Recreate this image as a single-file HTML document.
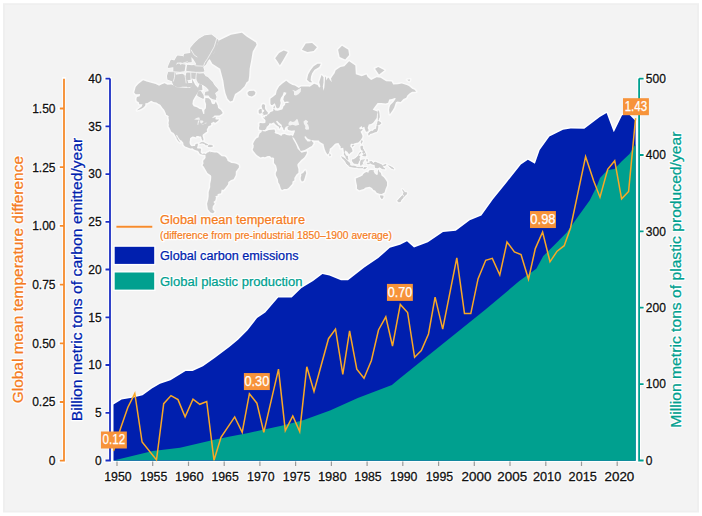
<!DOCTYPE html>
<html><head><meta charset="utf-8"><style>html,body{margin:0;padding:0;background:#fff;width:702px;height:516px;overflow:hidden}svg{display:block}</style></head>
<body><svg width="702" height="516" viewBox="0 0 702 516">
<rect x="3" y="3.2" width="696" height="509.3" fill="#efefef"/>
<rect x="5" y="5" width="692" height="505.6" fill="#f3f3f3"/>
<path d="M134.2,92.4L135.7,87.1L138.3,84.0L143.1,80.3L146.5,81.5L150.1,82.6L155.6,84.0L159.1,85.8L161.9,84.2L164.6,83.3L167.4,84.7L171.3,84.5L174.4,85.8L176.8,87.3L180.7,87.5L184.7,87.7L189.4,88.1L191.0,87.1L192.1,84.5L192.1,78.8L195.3,84.9L198.0,87.7L199.6,83.8L202.0,84.9L202.4,90.1L198.6,90.7L196.5,94.5L195.1,96.6L192.9,100.4L192.4,103.9L193.7,106.2L196.9,107.2L199.6,108.9L201.7,109.2L203.3,114.1L204.3,113.9L204.4,110.0L205.9,108.2L206.1,104.3L205.1,101.2L205.4,98.1L208.7,98.3L210.6,100.1L211.8,103.6L213.0,104.3L214.6,103.9L215.8,101.6L217.7,105.4L218.1,107.9L220.9,110.0L222.7,112.9L221.7,113.9L219.3,115.5L214.6,115.5L211.8,118.2L215.8,117.0L215.4,118.7L215.7,119.6L219.1,119.4L218.1,120.7L216.5,121.9L214.8,123.1L214.4,122.1L213.8,121.7L211.3,123.0L210.9,124.1L211.4,124.9L210.2,125.5L208.3,126.3L208.1,127.3L207.2,128.8L206.7,129.8L207.1,131.4L205.5,132.5L204.2,133.4L202.8,134.6L202.5,136.0L203.1,137.7L203.5,139.4L203.2,140.6L202.7,140.7L202.1,139.8L201.4,138.3L201.4,137.2L200.4,136.3L199.3,136.6L198.4,136.0L196.9,136.0L196.1,136.2L196.3,137.2L195.3,137.2L194.1,136.7L192.7,136.6L191.8,137.0L190.3,138.0L189.9,138.7L190.0,140.1L189.6,141.6L189.6,143.0L190.0,144.4L191.0,145.7L191.9,146.2L193.7,146.1L194.8,146.0L195.4,145.1L195.5,144.1L197.1,143.7L198.0,143.7L197.7,145.4L197.4,146.4L197.0,148.1L197.7,148.4L200.4,148.4L201.0,149.1L200.8,151.1L200.6,152.3L201.6,153.5L202.5,154.0L203.9,153.5L205.1,153.7L205.7,154.2L205.2,155.3L203.9,154.6L203.3,155.0L202.2,154.6L200.7,154.3L199.1,153.1L199.0,152.1L197.7,150.7L195.8,150.3L194.0,149.5L192.5,148.2L190.6,148.5L189.0,148.0L186.6,146.9L185.1,146.4L183.6,145.1L183.4,143.8L183.3,142.7L181.5,140.6L180.3,139.9L178.2,137.2L177.2,135.3L176.2,134.8L176.4,136.3L177.6,137.7L178.4,139.4L179.6,141.4L180.3,142.3L180.0,142.5L178.2,140.9L176.6,138.6L176.6,137.7L175.4,136.0L174.4,134.1L173.3,132.7L171.6,132.1L170.6,130.2L170.1,129.0L169.1,127.0L168.6,126.4L168.9,124.7L168.5,123.2L169.0,120.2L168.4,117.6L168.9,116.6L167.8,115.4L166.2,114.7L165.8,113.2L164.2,109.7L162.6,107.9L160.3,104.8L158.3,103.7L156.5,102.5L153.6,102.0L151.2,100.8L148.7,102.3L147.1,103.3L145.6,103.1L145.1,105.8L143.4,107.5L141.0,109.0L138.4,110.0L137.1,110.2L139.4,108.3L141.6,106.8L142.6,104.2L139.3,104.2L138.7,102.0L136.8,101.2L136.4,99.3L136.9,97.1L139.7,96.3L140.0,94.1L137.9,94.3L135.7,94.3ZM218.6,40.8L231.0,34.7L241.9,32.7L246.5,36.6L255.8,42.5L256.6,44.7L252.7,51.5L251.2,60.2L249.6,68.7L249.2,75.9L248.4,81.0L246.5,82.2L244.5,86.2L240.3,90.5L235.0,93.9L232.6,100.8L230.2,101.6L227.6,98.8L225.6,93.6L224.4,88.1L223.3,80.5L221.7,74.6L220.2,68.7L212.4,63.8L209.3,58.3L214.0,52.9L217.1,45.2ZM215.4,99.0L213.8,96.6L215.8,97.1L214.2,93.0L217.7,90.1L216.1,88.1L213.8,85.6L212.2,82.6L209.9,80.3L207.5,77.8L205.1,76.7L203.2,74.0L199.6,74.3L196.1,73.7L197.3,79.8L198.8,82.6L201.6,83.8L203.6,84.5L206.7,86.6L209.1,89.3L209.5,91.7L205.9,92.6L205.5,94.8L208.7,94.5L210.6,97.1L213.0,98.5ZM217.7,40.3L211.4,35.4L205.1,36.0L199.6,39.1L194.9,43.6L191.0,48.3L191.0,55.5L194.1,59.1L196.5,62.8L197.3,65.5L202.8,66.5L205.1,64.5L207.5,60.2L210.6,57.1L213.8,52.0L216.1,47.3ZM203.6,70.9L202.0,65.5L196.5,65.2L191.4,66.2L192.1,70.3L194.9,71.5L199.6,71.7ZM172.9,82.2L174.1,84.9L177.6,86.6L182.3,86.0L187.0,86.0L187.4,82.2L186.2,79.8L184.7,75.9L182.3,74.6L176.8,75.4L174.4,78.5L172.9,80.3ZM168.1,79.0L172.1,80.5L175.2,78.5L175.4,74.6L174.4,72.3L168.9,72.3L167.8,75.9ZM174.1,72.0L183.9,70.6L184.7,65.2L178.4,64.2L174.1,67.1ZM168.5,67.1L174.4,66.2L176.8,61.7L171.3,60.6ZM182.3,62.8L191.0,61.7L190.2,53.8L184.7,54.6ZM174.4,62.0L181.5,61.7L182.3,56.7L177.6,56.3ZM195.3,78.5L191.8,77.8L191.0,73.2L195.3,73.5ZM186.2,79.8L190.6,79.0L190.3,73.2L187.0,73.2ZM187.0,70.3L193.3,71.5L193.3,66.2L187.8,65.5ZM187.8,86.6L191.0,86.0L191.4,83.8L188.6,83.8ZM198.0,95.4L199.6,96.3L203.2,98.0L202.8,95.4L200.4,91.7L198.4,92.1ZM247.6,92.6L249.2,90.9L253.9,90.7L255.5,92.6L254.7,94.8L251.9,96.4L248.8,95.7L247.6,93.9ZM205.7,154.2L207.1,152.7L209.1,152.0L210.2,151.1L210.2,152.3L211.4,151.9L214.6,152.6L216.9,152.5L218.5,153.5L219.3,154.2L221.7,156.2L224.8,156.5L226.0,157.4L227.2,159.5L227.6,160.9L228.7,161.4L231.5,162.9L234.2,163.2L236.2,163.8L238.7,165.0L239.0,167.2L237.4,169.5L235.8,171.5L235.7,174.9L234.6,177.2L233.5,179.3L231.1,179.9L228.3,181.9L228.1,184.2L226.4,186.4L224.4,189.1L223.2,190.1L221.7,189.6L221.3,191.5L221.1,193.2L217.7,194.0L217.5,195.8L215.4,196.0L215.9,197.6L215.4,200.3L213.4,202.0L214.7,203.7L212.8,206.3L212.4,209.2L214.6,211.8L213.0,213.2L210.6,212.5L207.9,209.2L207.1,203.7L208.3,199.2L208.7,196.0L208.7,192.0L210.2,187.3L210.2,183.7L211.0,180.2L211.3,176.8L211.0,175.4L207.5,173.1L205.9,170.3L203.9,166.8L202.6,165.2L203.6,163.2L203.2,161.7L203.6,160.1L204.5,159.5L205.6,157.8L205.5,155.4ZM261.9,131.0L265.3,131.5L268.9,130.0L274.4,129.6L275.2,131.5L274.5,132.6L275.5,133.5L278.3,134.2L281.4,136.1L282.2,134.5L284.6,134.0L286.6,134.9L289.3,135.5L291.7,135.3L292.1,136.3L292.9,139.0L294.4,141.6L295.8,144.1L296.9,146.6L297.7,148.7L299.9,151.0L300.6,151.7L301.5,152.7L304.3,152.1L306.8,151.6L306.9,152.7L306.5,153.8L305.1,156.2L303.9,157.8L301.1,160.1L299.2,162.3L298.0,163.6L297.3,164.8L297.6,166.5L298.4,169.1L298.4,172.7L296.4,174.6L294.3,177.9L294.4,180.2L292.5,181.5L292.3,183.7L291.0,185.3L288.5,188.0L286.8,188.9L284.2,189.1L282.2,189.9L281.1,189.3L280.6,187.7L279.5,184.2L278.3,182.4L277.9,179.3L275.9,175.2L275.8,173.1L277.1,170.3L276.7,168.0L276.1,165.6L274.0,162.9L274.0,160.1L274.2,158.4L273.2,157.4L271.2,157.5L270.0,156.0L267.7,156.1L264.9,157.2L263.0,156.8L260.6,157.5L259.0,156.6L257.5,155.5L256.0,154.2L254.7,152.4L253.4,151.1L252.7,149.3L253.5,148.0L253.8,145.4L253.1,144.1L253.9,142.0L255.1,139.9L256.3,138.4L258.6,137.2L258.9,135.6L259.8,133.3L261.4,132.2ZM305.3,170.3L306.2,173.1L305.7,174.4L304.3,179.3L303.5,181.1L301.9,181.5L300.9,179.8L300.7,177.7L301.4,175.6L301.1,174.0L303.1,173.1L304.3,171.5ZM259.4,129.8L261.4,129.9L262.1,130.8L263.0,130.1L264.9,130.1L266.1,128.6L266.7,127.8L266.3,127.3L269.0,124.8L269.0,123.7L270.0,123.2L271.6,123.6L272.8,122.8L274.0,122.4L274.8,123.8L276.2,125.0L277.5,126.0L278.9,126.8L279.2,128.8L278.8,128.8L279.1,128.9L280.0,127.8L281.1,126.6L279.8,125.8L278.3,124.7L277.2,123.1L276.2,121.9L276.3,121.1L277.3,120.8L278.3,122.1L280.3,123.7L281.8,124.9L281.8,126.5L283.0,128.0L283.6,130.0L284.6,130.3L284.8,128.6L285.8,126.8L287.1,126.3L289.2,125.7L287.4,127.8L288.0,129.8L289.3,130.2L291.7,130.7L294.8,130.3L294.8,131.7L294.0,133.6L293.5,135.2L292.1,136.3L293.4,138.3L294.0,136.8L294.0,138.1L295.6,140.7L297.2,143.7L298.8,147.0L300.2,149.9L300.7,150.9L301.9,150.8L304.7,149.9L307.4,148.4L309.8,147.0L311.9,145.9L313.6,142.9L312.5,141.9L310.8,139.6L310.6,141.2L309.0,141.4L307.0,141.2L306.6,139.9L305.8,139.4L304.3,136.8L305.8,136.3L307.0,138.2L309.0,139.3L311.3,140.1L314.9,140.6L318.8,140.4L319.6,141.8L321.6,142.9L323.5,144.1L323.9,145.8L324.7,149.1L325.9,151.9L327.5,154.6L328.7,153.5L329.6,150.7L329.7,148.7L331.2,147.8L333.4,145.4L335.0,143.7L336.5,143.3L338.5,142.9L339.3,144.6L340.7,146.6L340.7,148.3L343.2,147.8L343.6,150.3L344.0,153.1L343.8,154.6L345.4,156.6L346.0,158.6L347.9,159.9L348.5,159.8L347.9,157.8L347.9,156.0L346.0,155.5L345.3,153.8L344.6,152.7L345.2,150.3L345.8,150.9L347.1,151.5L349.1,154.2L350.5,152.7L352.4,151.6L352.4,150.3L351.7,148.3L350.3,146.6L350.5,144.6L351.9,143.6L353.3,144.3L353.4,143.7L355.8,143.1L358.2,142.5L360.5,140.3L362.1,137.7L362.5,135.9L361.7,134.1L360.5,131.7L362.9,129.5L361.7,129.0L360.1,129.4L359.1,128.0L361.7,126.0L362.1,127.8L364.3,126.8L364.9,129.0L366.0,131.7L368.3,131.2L368.5,129.6L367.6,128.0L368.8,124.4L371.1,123.9L373.1,122.8L376.7,118.1L377.0,114.5L377.8,111.7L374.7,110.6L372.7,109.7L374.4,107.2L377.6,103.1L381.4,103.1L385.7,103.6L388.1,102.8L389.2,99.6L392.0,99.1L394.7,98.0L395.9,98.5L394.0,101.2L393.2,102.3L390.4,105.1L389.5,107.2L389.1,110.0L389.8,114.2L391.2,112.2L392.6,110.2L394.2,107.6L395.0,105.1L395.9,102.3L397.5,101.6L400.6,102.0L403.4,99.1L406.2,97.8L407.3,95.4L409.7,93.2L412.1,91.7L414.8,91.7L416.1,91.5L414.4,89.7L412.1,88.7L408.9,86.0L406.6,85.1L401.8,83.6L397.9,84.2L393.2,84.5L391.6,81.5L386.1,81.2L380.6,77.8L376.7,77.3L371.1,80.0L367.6,77.0L366.4,74.6L361.7,76.2L355.8,74.3L355.3,65.5L349.1,61.3L344.4,66.2L340.5,67.1L335.7,70.3L334.6,73.2L332.6,75.9L331.0,78.5L331.8,82.2L329.8,79.8L328.7,77.8L327.9,77.8L326.3,80.5L325.9,77.3L325.1,76.5L324.7,83.3L324.3,87.7L323.5,90.7L322.8,86.6L323.5,82.2L323.5,77.3L321.6,75.1L320.4,78.5L319.2,82.2L320.4,86.6L319.2,87.7L317.6,84.9L314.1,83.8L309.8,86.8L308.2,86.6L301.1,86.6L298.8,88.1L294.8,85.6L292.5,84.9L289.3,83.3L286.2,80.7L282.2,83.8L279.1,86.6L276.7,90.7L275.9,94.5L272.8,97.1L270.4,98.8L270.4,103.6L271.2,105.1L272.4,105.1L274.8,103.3L275.2,104.3L276.2,107.2L276.3,107.6L277.8,108.6L279.5,107.2L280.7,103.1L280.1,100.4L280.9,97.8L282.6,95.6L283.8,92.1L286.5,92.8L285.9,94.3L284.0,96.6L283.3,99.6L284.6,102.0L287.0,101.4L289.7,101.9L287.7,103.0L285.4,103.1L285.0,105.1L283.5,106.2L283.0,107.9L282.2,109.6L281.1,109.8L277.7,110.8L275.2,110.6L274.2,109.3L273.3,107.2L274.8,105.5L274.8,107.9L273.3,108.9L273.3,110.9L272.0,111.6L270.2,112.2L269.1,114.1L267.8,114.6L266.5,116.3L265.3,116.1L265.1,117.4L262.8,117.5L264.7,119.0L265.6,120.4L265.3,123.1L263.0,123.2L260.2,122.9L259.2,123.7L259.6,125.3L259.0,128.0ZM262.0,115.6L264.1,115.0L267.6,114.2L267.8,112.3L266.7,111.3L265.3,109.3L264.9,107.9L265.1,105.6L264.1,104.2L262.6,104.2L261.6,106.1L262.1,107.9L262.6,109.6L264.1,110.0L264.1,111.6L262.8,112.2L262.4,113.6L264.1,113.9L263.0,114.7ZM261.8,113.0L261.8,110.6L261.6,109.0L260.0,109.0L258.6,110.6L258.8,113.1L259.8,113.7ZM368.8,135.3L370.0,133.6L372.7,133.1L374.1,132.2L376.5,131.7L377.3,130.3L377.8,128.3L378.1,126.8L377.7,125.5L376.7,126.3L376.5,128.3L375.5,129.3L373.9,129.8L373.1,131.2L371.1,131.2L369.6,132.3L368.6,133.4ZM376.7,125.3L377.4,123.7L378.0,121.1L380.6,122.4L381.0,123.5L379.0,124.7ZM378.2,120.4L379.4,116.9L379.0,112.0L378.2,110.6L378.2,115.7ZM361.0,142.5L361.7,140.6L362.4,140.9L361.5,143.4ZM351.9,145.8L353.4,144.9L353.8,145.4L352.7,146.5ZM329.3,155.4L329.6,153.2L330.9,155.0L330.5,156.1L329.6,156.2ZM360.9,146.2L362.7,146.2L362.6,148.3L364.1,150.7L361.4,149.9L360.8,148.0ZM362.5,155.4L364.1,154.2L365.6,153.5L366.0,156.0L364.1,156.0ZM362.5,151.9L364.1,151.1L365.2,152.3L363.3,153.5ZM352.3,159.7L353.8,159.5L355.8,158.2L357.4,156.8L358.6,155.4L360.3,156.9L358.9,157.6L359.7,160.1L358.9,160.9L358.2,162.9L357.8,163.9L356.2,163.6L353.8,163.2L353.0,162.1L352.3,160.9ZM341.5,156.6L343.6,157.8L345.6,159.3L348.2,161.7L349.9,163.2L349.9,165.4L348.7,165.4L346.8,163.9L345.6,161.7L344.0,159.6L342.4,158.2ZM349.3,166.2L349.9,165.6L351.9,166.0L353.8,165.9L355.0,166.3L356.6,166.9L356.6,167.6L353.8,167.3L351.5,167.0L349.5,166.4ZM360.5,165.2L360.4,163.2L360.8,160.9L361.3,160.1L364.7,159.7L363.3,160.6L361.7,160.5L362.5,161.7L363.5,161.6L362.1,162.5L362.9,164.5L361.7,163.2L361.3,165.2ZM369.6,161.8L371.9,161.6L373.1,163.5L375.1,162.1L377.4,162.9L381.2,164.6L382.6,165.7L382.9,167.2L385.1,169.0L382.2,168.7L379.8,166.9L377.4,168.0L375.1,167.4L374.9,164.8L372.7,164.3L370.8,163.6L369.6,162.1ZM355.8,178.5L356.2,181.9L357.0,185.5L357.0,188.7L359.2,190.2L363.7,189.0L365.6,187.6L369.6,186.8L371.9,188.0L373.5,190.1L375.1,190.6L376.7,192.8L379.4,193.8L381.6,194.1L384.5,192.5L385.5,188.9L387.0,185.5L387.0,181.9L385.1,178.9L383.7,177.2L381.5,175.6L380.8,172.7L379.4,171.9L378.6,169.3L377.9,171.1L377.8,174.4L376.7,174.9L374.7,173.5L373.5,171.1L374.3,170.3L371.1,169.9L369.6,170.3L368.8,171.1L368.4,172.7L366.4,171.9L364.9,172.7L363.3,174.0L362.5,175.6L360.1,176.8L358.2,177.5L356.6,178.3ZM380.3,195.7L383.2,195.9L382.9,198.1L381.8,198.8L380.7,197.3ZM402.4,189.5L404.0,191.5L405.0,192.6L406.9,192.7L406.5,194.2L405.5,195.0L404.1,196.4L403.9,194.7L403.2,194.2L403.9,192.5ZM402.4,195.5L403.6,196.5L402.9,198.1L401.2,199.7L400.6,201.4L398.9,202.1L397.5,200.9L398.9,199.2L401.0,197.1ZM199.6,143.4L202.0,142.3L203.6,142.4L205.5,143.5L208.1,144.8L205.5,145.1L204.7,143.7L202.1,143.1ZM207.9,146.3L209.2,145.1L211.4,145.2L212.8,146.1L210.6,146.9L208.0,146.5ZM275.2,58.3L279.1,52.9L283.8,50.6L287.7,52.0L283.0,60.2L279.9,65.2L276.7,60.2ZM307.0,79.8L308.2,74.6L310.6,70.3L313.7,66.2L317.6,63.8L320.8,63.8L319.2,67.1L314.5,69.7L312.1,73.2L311.0,76.5L310.6,80.3L312.1,82.2L309.8,82.2ZM338.1,49.7L342.0,45.7L348.3,49.7L349.1,55.0L345.2,59.4L339.7,57.1ZM301.9,49.7L305.8,43.6L312.1,43.1L316.9,47.3L313.7,51.1L307.4,52.0ZM375.1,68.7L379.0,74.6L384.5,70.3L378.2,67.1ZM407.3,79.8L410.1,79.5L409.3,81.2ZM364.1,167.6L366.7,167.5L364.9,168.7L363.7,169.0ZM357.1,167.3L360.1,167.4L362.9,167.3L363.1,167.9L360.1,168.0L357.8,167.9ZM366.8,159.3L367.6,159.7L367.2,161.5L366.7,160.9ZM367.2,163.2L369.6,163.2L369.2,163.9L367.2,163.8ZM383.3,165.2L386.1,164.2L385.7,165.2L383.7,165.7ZM388.5,165.6L392.4,167.6L394.0,169.1L391.6,168.3ZM358.7,154.4L360.5,152.0L360.8,152.7L359.3,154.2ZM215.4,99.0L213.8,96.6L215.8,97.1L214.2,93.0L217.7,90.1L216.1,88.1L213.8,85.6L212.2,82.6L209.9,80.3L207.5,77.8L205.1,76.7L203.2,74.0L199.6,74.3L196.1,73.7L197.3,79.8L198.8,82.6L201.6,83.8L203.6,84.5L206.7,86.6L209.1,89.3L209.5,91.7L205.9,92.6L205.5,94.8L208.7,94.5L210.6,97.1L213.0,98.5ZM217.7,40.3L211.4,35.4L205.1,36.0L199.6,39.1L194.9,43.6L191.0,48.3L191.0,55.5L194.1,59.1L196.5,62.8L197.3,65.5L202.8,66.5L205.1,64.5L207.5,60.2L210.6,57.1L213.8,52.0L216.1,47.3ZM203.6,70.9L202.0,65.5L196.5,65.2L191.4,66.2L192.1,70.3L194.9,71.5L199.6,71.7ZM172.9,82.2L174.1,84.9L177.6,86.6L182.3,86.0L187.0,86.0L187.4,82.2L186.2,79.8L184.7,75.9L182.3,74.6L176.8,75.4L174.4,78.5L172.9,80.3ZM168.1,79.0L172.1,80.5L175.2,78.5L175.4,74.6L174.4,72.3L168.9,72.3L167.8,75.9ZM174.1,72.0L183.9,70.6L184.7,65.2L178.4,64.2L174.1,67.1ZM168.5,67.1L174.4,66.2L176.8,61.7L171.3,60.6ZM182.3,62.8L191.0,61.7L190.2,53.8L184.7,54.6ZM174.4,62.0L181.5,61.7L182.3,56.7L177.6,56.3ZM195.3,78.5L191.8,77.8L191.0,73.2L195.3,73.5ZM186.2,79.8L190.6,79.0L190.3,73.2L187.0,73.2ZM187.0,70.3L193.3,71.5L193.3,66.2L187.8,65.5ZM187.8,86.6L191.0,86.0L191.4,83.8L188.6,83.8ZM198.0,95.4L199.6,96.3L203.2,98.0L202.8,95.4L200.4,91.7L198.4,92.1Z" fill="#fafafa" stroke="#fafafa" stroke-width="3" stroke-linejoin="round"/>
<path d="M134.2,92.4L135.7,87.1L138.3,84.0L143.1,80.3L146.5,81.5L150.1,82.6L155.6,84.0L159.1,85.8L161.9,84.2L164.6,83.3L167.4,84.7L171.3,84.5L174.4,85.8L176.8,87.3L180.7,87.5L184.7,87.7L189.4,88.1L191.0,87.1L192.1,84.5L192.1,78.8L195.3,84.9L198.0,87.7L199.6,83.8L202.0,84.9L202.4,90.1L198.6,90.7L196.5,94.5L195.1,96.6L192.9,100.4L192.4,103.9L193.7,106.2L196.9,107.2L199.6,108.9L201.7,109.2L203.3,114.1L204.3,113.9L204.4,110.0L205.9,108.2L206.1,104.3L205.1,101.2L205.4,98.1L208.7,98.3L210.6,100.1L211.8,103.6L213.0,104.3L214.6,103.9L215.8,101.6L217.7,105.4L218.1,107.9L220.9,110.0L222.7,112.9L221.7,113.9L219.3,115.5L214.6,115.5L211.8,118.2L215.8,117.0L215.4,118.7L215.7,119.6L219.1,119.4L218.1,120.7L216.5,121.9L214.8,123.1L214.4,122.1L213.8,121.7L211.3,123.0L210.9,124.1L211.4,124.9L210.2,125.5L208.3,126.3L208.1,127.3L207.2,128.8L206.7,129.8L207.1,131.4L205.5,132.5L204.2,133.4L202.8,134.6L202.5,136.0L203.1,137.7L203.5,139.4L203.2,140.6L202.7,140.7L202.1,139.8L201.4,138.3L201.4,137.2L200.4,136.3L199.3,136.6L198.4,136.0L196.9,136.0L196.1,136.2L196.3,137.2L195.3,137.2L194.1,136.7L192.7,136.6L191.8,137.0L190.3,138.0L189.9,138.7L190.0,140.1L189.6,141.6L189.6,143.0L190.0,144.4L191.0,145.7L191.9,146.2L193.7,146.1L194.8,146.0L195.4,145.1L195.5,144.1L197.1,143.7L198.0,143.7L197.7,145.4L197.4,146.4L197.0,148.1L197.7,148.4L200.4,148.4L201.0,149.1L200.8,151.1L200.6,152.3L201.6,153.5L202.5,154.0L203.9,153.5L205.1,153.7L205.7,154.2L205.2,155.3L203.9,154.6L203.3,155.0L202.2,154.6L200.7,154.3L199.1,153.1L199.0,152.1L197.7,150.7L195.8,150.3L194.0,149.5L192.5,148.2L190.6,148.5L189.0,148.0L186.6,146.9L185.1,146.4L183.6,145.1L183.4,143.8L183.3,142.7L181.5,140.6L180.3,139.9L178.2,137.2L177.2,135.3L176.2,134.8L176.4,136.3L177.6,137.7L178.4,139.4L179.6,141.4L180.3,142.3L180.0,142.5L178.2,140.9L176.6,138.6L176.6,137.7L175.4,136.0L174.4,134.1L173.3,132.7L171.6,132.1L170.6,130.2L170.1,129.0L169.1,127.0L168.6,126.4L168.9,124.7L168.5,123.2L169.0,120.2L168.4,117.6L168.9,116.6L167.8,115.4L166.2,114.7L165.8,113.2L164.2,109.7L162.6,107.9L160.3,104.8L158.3,103.7L156.5,102.5L153.6,102.0L151.2,100.8L148.7,102.3L147.1,103.3L145.6,103.1L145.1,105.8L143.4,107.5L141.0,109.0L138.4,110.0L137.1,110.2L139.4,108.3L141.6,106.8L142.6,104.2L139.3,104.2L138.7,102.0L136.8,101.2L136.4,99.3L136.9,97.1L139.7,96.3L140.0,94.1L137.9,94.3L135.7,94.3ZM218.6,40.8L231.0,34.7L241.9,32.7L246.5,36.6L255.8,42.5L256.6,44.7L252.7,51.5L251.2,60.2L249.6,68.7L249.2,75.9L248.4,81.0L246.5,82.2L244.5,86.2L240.3,90.5L235.0,93.9L232.6,100.8L230.2,101.6L227.6,98.8L225.6,93.6L224.4,88.1L223.3,80.5L221.7,74.6L220.2,68.7L212.4,63.8L209.3,58.3L214.0,52.9L217.1,45.2ZM215.4,99.0L213.8,96.6L215.8,97.1L214.2,93.0L217.7,90.1L216.1,88.1L213.8,85.6L212.2,82.6L209.9,80.3L207.5,77.8L205.1,76.7L203.2,74.0L199.6,74.3L196.1,73.7L197.3,79.8L198.8,82.6L201.6,83.8L203.6,84.5L206.7,86.6L209.1,89.3L209.5,91.7L205.9,92.6L205.5,94.8L208.7,94.5L210.6,97.1L213.0,98.5ZM217.7,40.3L211.4,35.4L205.1,36.0L199.6,39.1L194.9,43.6L191.0,48.3L191.0,55.5L194.1,59.1L196.5,62.8L197.3,65.5L202.8,66.5L205.1,64.5L207.5,60.2L210.6,57.1L213.8,52.0L216.1,47.3ZM203.6,70.9L202.0,65.5L196.5,65.2L191.4,66.2L192.1,70.3L194.9,71.5L199.6,71.7ZM172.9,82.2L174.1,84.9L177.6,86.6L182.3,86.0L187.0,86.0L187.4,82.2L186.2,79.8L184.7,75.9L182.3,74.6L176.8,75.4L174.4,78.5L172.9,80.3ZM168.1,79.0L172.1,80.5L175.2,78.5L175.4,74.6L174.4,72.3L168.9,72.3L167.8,75.9ZM174.1,72.0L183.9,70.6L184.7,65.2L178.4,64.2L174.1,67.1ZM168.5,67.1L174.4,66.2L176.8,61.7L171.3,60.6ZM182.3,62.8L191.0,61.7L190.2,53.8L184.7,54.6ZM174.4,62.0L181.5,61.7L182.3,56.7L177.6,56.3ZM195.3,78.5L191.8,77.8L191.0,73.2L195.3,73.5ZM186.2,79.8L190.6,79.0L190.3,73.2L187.0,73.2ZM187.0,70.3L193.3,71.5L193.3,66.2L187.8,65.5ZM187.8,86.6L191.0,86.0L191.4,83.8L188.6,83.8ZM198.0,95.4L199.6,96.3L203.2,98.0L202.8,95.4L200.4,91.7L198.4,92.1ZM247.6,92.6L249.2,90.9L253.9,90.7L255.5,92.6L254.7,94.8L251.9,96.4L248.8,95.7L247.6,93.9ZM205.7,154.2L207.1,152.7L209.1,152.0L210.2,151.1L210.2,152.3L211.4,151.9L214.6,152.6L216.9,152.5L218.5,153.5L219.3,154.2L221.7,156.2L224.8,156.5L226.0,157.4L227.2,159.5L227.6,160.9L228.7,161.4L231.5,162.9L234.2,163.2L236.2,163.8L238.7,165.0L239.0,167.2L237.4,169.5L235.8,171.5L235.7,174.9L234.6,177.2L233.5,179.3L231.1,179.9L228.3,181.9L228.1,184.2L226.4,186.4L224.4,189.1L223.2,190.1L221.7,189.6L221.3,191.5L221.1,193.2L217.7,194.0L217.5,195.8L215.4,196.0L215.9,197.6L215.4,200.3L213.4,202.0L214.7,203.7L212.8,206.3L212.4,209.2L214.6,211.8L213.0,213.2L210.6,212.5L207.9,209.2L207.1,203.7L208.3,199.2L208.7,196.0L208.7,192.0L210.2,187.3L210.2,183.7L211.0,180.2L211.3,176.8L211.0,175.4L207.5,173.1L205.9,170.3L203.9,166.8L202.6,165.2L203.6,163.2L203.2,161.7L203.6,160.1L204.5,159.5L205.6,157.8L205.5,155.4ZM261.9,131.0L265.3,131.5L268.9,130.0L274.4,129.6L275.2,131.5L274.5,132.6L275.5,133.5L278.3,134.2L281.4,136.1L282.2,134.5L284.6,134.0L286.6,134.9L289.3,135.5L291.7,135.3L292.1,136.3L292.9,139.0L294.4,141.6L295.8,144.1L296.9,146.6L297.7,148.7L299.9,151.0L300.6,151.7L301.5,152.7L304.3,152.1L306.8,151.6L306.9,152.7L306.5,153.8L305.1,156.2L303.9,157.8L301.1,160.1L299.2,162.3L298.0,163.6L297.3,164.8L297.6,166.5L298.4,169.1L298.4,172.7L296.4,174.6L294.3,177.9L294.4,180.2L292.5,181.5L292.3,183.7L291.0,185.3L288.5,188.0L286.8,188.9L284.2,189.1L282.2,189.9L281.1,189.3L280.6,187.7L279.5,184.2L278.3,182.4L277.9,179.3L275.9,175.2L275.8,173.1L277.1,170.3L276.7,168.0L276.1,165.6L274.0,162.9L274.0,160.1L274.2,158.4L273.2,157.4L271.2,157.5L270.0,156.0L267.7,156.1L264.9,157.2L263.0,156.8L260.6,157.5L259.0,156.6L257.5,155.5L256.0,154.2L254.7,152.4L253.4,151.1L252.7,149.3L253.5,148.0L253.8,145.4L253.1,144.1L253.9,142.0L255.1,139.9L256.3,138.4L258.6,137.2L258.9,135.6L259.8,133.3L261.4,132.2ZM305.3,170.3L306.2,173.1L305.7,174.4L304.3,179.3L303.5,181.1L301.9,181.5L300.9,179.8L300.7,177.7L301.4,175.6L301.1,174.0L303.1,173.1L304.3,171.5ZM259.4,129.8L261.4,129.9L262.1,130.8L263.0,130.1L264.9,130.1L266.1,128.6L266.7,127.8L266.3,127.3L269.0,124.8L269.0,123.7L270.0,123.2L271.6,123.6L272.8,122.8L274.0,122.4L274.8,123.8L276.2,125.0L277.5,126.0L278.9,126.8L279.2,128.8L278.8,128.8L279.1,128.9L280.0,127.8L281.1,126.6L279.8,125.8L278.3,124.7L277.2,123.1L276.2,121.9L276.3,121.1L277.3,120.8L278.3,122.1L280.3,123.7L281.8,124.9L281.8,126.5L283.0,128.0L283.6,130.0L284.6,130.3L284.8,128.6L285.8,126.8L287.1,126.3L289.2,125.7L287.4,127.8L288.0,129.8L289.3,130.2L291.7,130.7L294.8,130.3L294.8,131.7L294.0,133.6L293.5,135.2L292.1,136.3L293.4,138.3L294.0,136.8L294.0,138.1L295.6,140.7L297.2,143.7L298.8,147.0L300.2,149.9L300.7,150.9L301.9,150.8L304.7,149.9L307.4,148.4L309.8,147.0L311.9,145.9L313.6,142.9L312.5,141.9L310.8,139.6L310.6,141.2L309.0,141.4L307.0,141.2L306.6,139.9L305.8,139.4L304.3,136.8L305.8,136.3L307.0,138.2L309.0,139.3L311.3,140.1L314.9,140.6L318.8,140.4L319.6,141.8L321.6,142.9L323.5,144.1L323.9,145.8L324.7,149.1L325.9,151.9L327.5,154.6L328.7,153.5L329.6,150.7L329.7,148.7L331.2,147.8L333.4,145.4L335.0,143.7L336.5,143.3L338.5,142.9L339.3,144.6L340.7,146.6L340.7,148.3L343.2,147.8L343.6,150.3L344.0,153.1L343.8,154.6L345.4,156.6L346.0,158.6L347.9,159.9L348.5,159.8L347.9,157.8L347.9,156.0L346.0,155.5L345.3,153.8L344.6,152.7L345.2,150.3L345.8,150.9L347.1,151.5L349.1,154.2L350.5,152.7L352.4,151.6L352.4,150.3L351.7,148.3L350.3,146.6L350.5,144.6L351.9,143.6L353.3,144.3L353.4,143.7L355.8,143.1L358.2,142.5L360.5,140.3L362.1,137.7L362.5,135.9L361.7,134.1L360.5,131.7L362.9,129.5L361.7,129.0L360.1,129.4L359.1,128.0L361.7,126.0L362.1,127.8L364.3,126.8L364.9,129.0L366.0,131.7L368.3,131.2L368.5,129.6L367.6,128.0L368.8,124.4L371.1,123.9L373.1,122.8L376.7,118.1L377.0,114.5L377.8,111.7L374.7,110.6L372.7,109.7L374.4,107.2L377.6,103.1L381.4,103.1L385.7,103.6L388.1,102.8L389.2,99.6L392.0,99.1L394.7,98.0L395.9,98.5L394.0,101.2L393.2,102.3L390.4,105.1L389.5,107.2L389.1,110.0L389.8,114.2L391.2,112.2L392.6,110.2L394.2,107.6L395.0,105.1L395.9,102.3L397.5,101.6L400.6,102.0L403.4,99.1L406.2,97.8L407.3,95.4L409.7,93.2L412.1,91.7L414.8,91.7L416.1,91.5L414.4,89.7L412.1,88.7L408.9,86.0L406.6,85.1L401.8,83.6L397.9,84.2L393.2,84.5L391.6,81.5L386.1,81.2L380.6,77.8L376.7,77.3L371.1,80.0L367.6,77.0L366.4,74.6L361.7,76.2L355.8,74.3L355.3,65.5L349.1,61.3L344.4,66.2L340.5,67.1L335.7,70.3L334.6,73.2L332.6,75.9L331.0,78.5L331.8,82.2L329.8,79.8L328.7,77.8L327.9,77.8L326.3,80.5L325.9,77.3L325.1,76.5L324.7,83.3L324.3,87.7L323.5,90.7L322.8,86.6L323.5,82.2L323.5,77.3L321.6,75.1L320.4,78.5L319.2,82.2L320.4,86.6L319.2,87.7L317.6,84.9L314.1,83.8L309.8,86.8L308.2,86.6L301.1,86.6L298.8,88.1L294.8,85.6L292.5,84.9L289.3,83.3L286.2,80.7L282.2,83.8L279.1,86.6L276.7,90.7L275.9,94.5L272.8,97.1L270.4,98.8L270.4,103.6L271.2,105.1L272.4,105.1L274.8,103.3L275.2,104.3L276.2,107.2L276.3,107.6L277.8,108.6L279.5,107.2L280.7,103.1L280.1,100.4L280.9,97.8L282.6,95.6L283.8,92.1L286.5,92.8L285.9,94.3L284.0,96.6L283.3,99.6L284.6,102.0L287.0,101.4L289.7,101.9L287.7,103.0L285.4,103.1L285.0,105.1L283.5,106.2L283.0,107.9L282.2,109.6L281.1,109.8L277.7,110.8L275.2,110.6L274.2,109.3L273.3,107.2L274.8,105.5L274.8,107.9L273.3,108.9L273.3,110.9L272.0,111.6L270.2,112.2L269.1,114.1L267.8,114.6L266.5,116.3L265.3,116.1L265.1,117.4L262.8,117.5L264.7,119.0L265.6,120.4L265.3,123.1L263.0,123.2L260.2,122.9L259.2,123.7L259.6,125.3L259.0,128.0ZM262.0,115.6L264.1,115.0L267.6,114.2L267.8,112.3L266.7,111.3L265.3,109.3L264.9,107.9L265.1,105.6L264.1,104.2L262.6,104.2L261.6,106.1L262.1,107.9L262.6,109.6L264.1,110.0L264.1,111.6L262.8,112.2L262.4,113.6L264.1,113.9L263.0,114.7ZM261.8,113.0L261.8,110.6L261.6,109.0L260.0,109.0L258.6,110.6L258.8,113.1L259.8,113.7ZM368.8,135.3L370.0,133.6L372.7,133.1L374.1,132.2L376.5,131.7L377.3,130.3L377.8,128.3L378.1,126.8L377.7,125.5L376.7,126.3L376.5,128.3L375.5,129.3L373.9,129.8L373.1,131.2L371.1,131.2L369.6,132.3L368.6,133.4ZM376.7,125.3L377.4,123.7L378.0,121.1L380.6,122.4L381.0,123.5L379.0,124.7ZM378.2,120.4L379.4,116.9L379.0,112.0L378.2,110.6L378.2,115.7ZM361.0,142.5L361.7,140.6L362.4,140.9L361.5,143.4ZM351.9,145.8L353.4,144.9L353.8,145.4L352.7,146.5ZM329.3,155.4L329.6,153.2L330.9,155.0L330.5,156.1L329.6,156.2ZM360.9,146.2L362.7,146.2L362.6,148.3L364.1,150.7L361.4,149.9L360.8,148.0ZM362.5,155.4L364.1,154.2L365.6,153.5L366.0,156.0L364.1,156.0ZM362.5,151.9L364.1,151.1L365.2,152.3L363.3,153.5ZM352.3,159.7L353.8,159.5L355.8,158.2L357.4,156.8L358.6,155.4L360.3,156.9L358.9,157.6L359.7,160.1L358.9,160.9L358.2,162.9L357.8,163.9L356.2,163.6L353.8,163.2L353.0,162.1L352.3,160.9ZM341.5,156.6L343.6,157.8L345.6,159.3L348.2,161.7L349.9,163.2L349.9,165.4L348.7,165.4L346.8,163.9L345.6,161.7L344.0,159.6L342.4,158.2ZM349.3,166.2L349.9,165.6L351.9,166.0L353.8,165.9L355.0,166.3L356.6,166.9L356.6,167.6L353.8,167.3L351.5,167.0L349.5,166.4ZM360.5,165.2L360.4,163.2L360.8,160.9L361.3,160.1L364.7,159.7L363.3,160.6L361.7,160.5L362.5,161.7L363.5,161.6L362.1,162.5L362.9,164.5L361.7,163.2L361.3,165.2ZM369.6,161.8L371.9,161.6L373.1,163.5L375.1,162.1L377.4,162.9L381.2,164.6L382.6,165.7L382.9,167.2L385.1,169.0L382.2,168.7L379.8,166.9L377.4,168.0L375.1,167.4L374.9,164.8L372.7,164.3L370.8,163.6L369.6,162.1ZM355.8,178.5L356.2,181.9L357.0,185.5L357.0,188.7L359.2,190.2L363.7,189.0L365.6,187.6L369.6,186.8L371.9,188.0L373.5,190.1L375.1,190.6L376.7,192.8L379.4,193.8L381.6,194.1L384.5,192.5L385.5,188.9L387.0,185.5L387.0,181.9L385.1,178.9L383.7,177.2L381.5,175.6L380.8,172.7L379.4,171.9L378.6,169.3L377.9,171.1L377.8,174.4L376.7,174.9L374.7,173.5L373.5,171.1L374.3,170.3L371.1,169.9L369.6,170.3L368.8,171.1L368.4,172.7L366.4,171.9L364.9,172.7L363.3,174.0L362.5,175.6L360.1,176.8L358.2,177.5L356.6,178.3ZM380.3,195.7L383.2,195.9L382.9,198.1L381.8,198.8L380.7,197.3ZM402.4,189.5L404.0,191.5L405.0,192.6L406.9,192.7L406.5,194.2L405.5,195.0L404.1,196.4L403.9,194.7L403.2,194.2L403.9,192.5ZM402.4,195.5L403.6,196.5L402.9,198.1L401.2,199.7L400.6,201.4L398.9,202.1L397.5,200.9L398.9,199.2L401.0,197.1ZM199.6,143.4L202.0,142.3L203.6,142.4L205.5,143.5L208.1,144.8L205.5,145.1L204.7,143.7L202.1,143.1ZM207.9,146.3L209.2,145.1L211.4,145.2L212.8,146.1L210.6,146.9L208.0,146.5ZM275.2,58.3L279.1,52.9L283.8,50.6L287.7,52.0L283.0,60.2L279.9,65.2L276.7,60.2ZM307.0,79.8L308.2,74.6L310.6,70.3L313.7,66.2L317.6,63.8L320.8,63.8L319.2,67.1L314.5,69.7L312.1,73.2L311.0,76.5L310.6,80.3L312.1,82.2L309.8,82.2ZM338.1,49.7L342.0,45.7L348.3,49.7L349.1,55.0L345.2,59.4L339.7,57.1ZM301.9,49.7L305.8,43.6L312.1,43.1L316.9,47.3L313.7,51.1L307.4,52.0ZM375.1,68.7L379.0,74.6L384.5,70.3L378.2,67.1ZM407.3,79.8L410.1,79.5L409.3,81.2ZM364.1,167.6L366.7,167.5L364.9,168.7L363.7,169.0ZM357.1,167.3L360.1,167.4L362.9,167.3L363.1,167.9L360.1,168.0L357.8,167.9ZM366.8,159.3L367.6,159.7L367.2,161.5L366.7,160.9ZM367.2,163.2L369.6,163.2L369.2,163.9L367.2,163.8ZM383.3,165.2L386.1,164.2L385.7,165.2L383.7,165.7ZM388.5,165.6L392.4,167.6L394.0,169.1L391.6,168.3ZM358.7,154.4L360.5,152.0L360.8,152.7L359.3,154.2Z" fill="#cdcdcd"/>
<path d="M215.4,99.0L213.8,96.6L215.8,97.1L214.2,93.0L217.7,90.1L216.1,88.1L213.8,85.6L212.2,82.6L209.9,80.3L207.5,77.8L205.1,76.7L203.2,74.0L199.6,74.3L196.1,73.7L197.3,79.8L198.8,82.6L201.6,83.8L203.6,84.5L206.7,86.6L209.1,89.3L209.5,91.7L205.9,92.6L205.5,94.8L208.7,94.5L210.6,97.1L213.0,98.5ZM217.7,40.3L211.4,35.4L205.1,36.0L199.6,39.1L194.9,43.6L191.0,48.3L191.0,55.5L194.1,59.1L196.5,62.8L197.3,65.5L202.8,66.5L205.1,64.5L207.5,60.2L210.6,57.1L213.8,52.0L216.1,47.3ZM203.6,70.9L202.0,65.5L196.5,65.2L191.4,66.2L192.1,70.3L194.9,71.5L199.6,71.7ZM172.9,82.2L174.1,84.9L177.6,86.6L182.3,86.0L187.0,86.0L187.4,82.2L186.2,79.8L184.7,75.9L182.3,74.6L176.8,75.4L174.4,78.5L172.9,80.3ZM168.1,79.0L172.1,80.5L175.2,78.5L175.4,74.6L174.4,72.3L168.9,72.3L167.8,75.9ZM174.1,72.0L183.9,70.6L184.7,65.2L178.4,64.2L174.1,67.1ZM168.5,67.1L174.4,66.2L176.8,61.7L171.3,60.6ZM182.3,62.8L191.0,61.7L190.2,53.8L184.7,54.6ZM174.4,62.0L181.5,61.7L182.3,56.7L177.6,56.3ZM195.3,78.5L191.8,77.8L191.0,73.2L195.3,73.5ZM186.2,79.8L190.6,79.0L190.3,73.2L187.0,73.2ZM187.0,70.3L193.3,71.5L193.3,66.2L187.8,65.5ZM187.8,86.6L191.0,86.0L191.4,83.8L188.6,83.8ZM198.0,95.4L199.6,96.3L203.2,98.0L202.8,95.4L200.4,91.7L198.4,92.1Z" fill="#cdcdcd" stroke="#cdcdcd" stroke-width="1.6" stroke-linejoin="round"/>
<path d="M341.5,156.6L343.6,157.8L345.6,159.3L348.2,161.7L349.9,163.2L349.9,165.4L348.7,165.4L346.8,163.9L345.6,161.7L344.0,159.6L342.4,158.2ZM352.3,159.7L353.8,159.5L355.8,158.2L357.4,156.8L358.6,155.4L360.3,156.9L358.9,157.6L359.7,160.1L358.9,160.9L358.2,162.9L357.8,163.9L356.2,163.6L353.8,163.2L353.0,162.1L352.3,160.9ZM349.3,166.2L349.9,165.6L351.9,166.0L353.8,165.9L355.0,166.3L356.6,166.9L356.6,167.6L353.8,167.3L351.5,167.0L349.5,166.4ZM360.5,165.2L360.4,163.2L360.8,160.9L361.3,160.1L364.7,159.7L363.3,160.6L361.7,160.5L362.5,161.7L363.5,161.6L362.1,162.5L362.9,164.5L361.7,163.2L361.3,165.2ZM369.6,161.8L371.9,161.6L373.1,163.5L375.1,162.1L377.4,162.9L381.2,164.6L382.6,165.7L382.9,167.2L385.1,169.0L382.2,168.7L379.8,166.9L377.4,168.0L375.1,167.4L374.9,164.8L372.7,164.3L370.8,163.6L369.6,162.1ZM360.9,146.2L362.7,146.2L362.6,148.3L364.1,150.7L361.4,149.9L360.8,148.0ZM362.5,155.4L364.1,154.2L365.6,153.5L366.0,156.0L364.1,156.0ZM362.5,151.9L364.1,151.1L365.2,152.3L363.3,153.5ZM364.1,167.6L366.7,167.5L364.9,168.7L363.7,169.0ZM357.1,167.3L360.1,167.4L362.9,167.3L363.1,167.9L360.1,168.0L357.8,167.9ZM366.8,159.3L367.6,159.7L367.2,161.5L366.7,160.9ZM367.2,163.2L369.6,163.2L369.2,163.9L367.2,163.8ZM383.3,165.2L386.1,164.2L385.7,165.2L383.7,165.7ZM388.5,165.6L392.4,167.6L394.0,169.1L391.6,168.3ZM358.7,154.4L360.5,152.0L360.8,152.7L359.3,154.2ZM368.8,135.3L370.0,133.6L372.7,133.1L374.1,132.2L376.5,131.7L377.3,130.3L377.8,128.3L378.1,126.8L377.7,125.5L376.7,126.3L376.5,128.3L375.5,129.3L373.9,129.8L373.1,131.2L371.1,131.2L369.6,132.3L368.6,133.4ZM376.7,125.3L377.4,123.7L378.0,121.1L380.6,122.4L381.0,123.5L379.0,124.7ZM378.2,120.4L379.4,116.9L379.0,112.0L378.2,110.6L378.2,115.7ZM361.0,142.5L361.7,140.6L362.4,140.9L361.5,143.4ZM351.9,145.8L353.4,144.9L353.8,145.4L352.7,146.5ZM199.6,143.4L202.0,142.3L203.6,142.4L205.5,143.5L208.1,144.8L205.5,145.1L204.7,143.7L202.1,143.1ZM207.9,146.3L209.2,145.1L211.4,145.2L212.8,146.1L210.6,146.9L208.0,146.5ZM402.4,189.5L404.0,191.5L405.0,192.6L406.9,192.7L406.5,194.2L405.5,195.0L404.1,196.4L403.9,194.7L403.2,194.2L403.9,192.5ZM402.4,195.5L403.6,196.5L402.9,198.1L401.2,199.7L400.6,201.4L398.9,202.1L397.5,200.9L398.9,199.2L401.0,197.1ZM380.3,195.7L383.2,195.9L382.9,198.1L381.8,198.8L380.7,197.3Z" fill="#cdcdcd" stroke="#cdcdcd" stroke-width="0.5" stroke-linejoin="round"/>
<path d="M216.9,37.9L214.2,46.8L210.6,53.3L207.5,58.7L204.7,62.8L203.6,66.2M204.3,72.3L195.7,72.3L187.8,71.5L180.0,72.3L173.7,71.7L167.4,71.5M203.6,66.2L195.7,65.8L191.8,62.8L187.8,62.8M191.0,49.7L194.1,55.0L197.3,57.1M173.3,81.5L174.4,77.8L175.0,72.0M186.2,83.3L185.5,78.5L184.3,72.0M191.0,79.8L190.7,72.3M195.7,79.8L196.1,75.9L196.5,72.3M180.0,64.5L183.1,63.1L187.8,61.7" fill="none" stroke="#f3f3f3" stroke-width="0.9" stroke-linejoin="round"/>
<path d="M292.1,89.7L294.0,91.7L294.0,95.0L296.0,95.4L298.4,94.3L300.7,91.7L301.1,87.7L298.8,89.1L295.6,91.1ZM288.5,125.3L288.5,123.1L290.1,120.9L292.9,122.1L294.8,121.3L296.4,119.3L297.6,119.3L299.2,124.7L295.6,125.8L292.5,124.7L290.1,125.6ZM303.5,121.5L305.8,119.8L308.2,121.5L307.0,123.7L308.2,124.7L309.0,127.8L308.9,129.5L306.2,129.8L305.1,128.8L305.4,126.3L303.9,123.7ZM194.1,119.6L196.5,117.9L199.2,117.2L200.0,119.7L197.7,119.8ZM197.4,124.7L198.0,120.6L199.6,120.4L198.6,123.1L198.2,125.0ZM200.4,123.0L200.0,120.5L202.4,120.4L203.6,121.5L201.7,123.5ZM201.0,125.1L202.8,124.4L204.3,123.8L203.2,124.7ZM203.7,123.4L206.5,122.4L206.3,123.4Z" fill="#f3f3f3"/>
<polygon points="113.5,460.7 113.5,404.5 121.6,399.5 133.3,397.5 142.6,395.3 151.9,388.4 160.0,383.7 170.5,380.2 185.6,370.9 192.6,370.9 203.0,366.3 214.7,358.0 230.0,346.5 238.1,339.7 247.6,330.2 257.1,318.0 265.3,312.6 278.2,297.6 291.7,297.6 301.5,287.9 313.1,280.9 322.4,274.0 329.4,275.6 341.0,280.2 348.0,280.2 364.3,267.4 378.3,258.1 389.9,247.7 400.0,244.7 407.0,241.2 414.0,247.4 427.9,242.3 443.0,231.9 455.8,230.7 469.8,220.2 481.4,215.6 493.0,199.3 507.0,181.9 520.9,164.4 527.9,159.8 534.9,163.7 539.7,150.1 549.4,136.5 563.0,129.7 570.7,128.4 584.3,128.8 599.8,117.1 606.6,113.0 613.8,132.3 622.1,115.2 628.9,114.2 635.6,121.0 635.6,460.7" fill="#ffffff" stroke="#ffffff" stroke-width="2.8" stroke-linejoin="round"/>
<polygon points="113.5,460.7 113.5,404.5 121.6,399.5 133.3,397.5 142.6,395.3 151.9,388.4 160.0,383.7 170.5,380.2 185.6,370.9 192.6,370.9 203.0,366.3 214.7,358.0 230.0,346.5 238.1,339.7 247.6,330.2 257.1,318.0 265.3,312.6 278.2,297.6 291.7,297.6 301.5,287.9 313.1,280.9 322.4,274.0 329.4,275.6 341.0,280.2 348.0,280.2 364.3,267.4 378.3,258.1 389.9,247.7 400.0,244.7 407.0,241.2 414.0,247.4 427.9,242.3 443.0,231.9 455.8,230.7 469.8,220.2 481.4,215.6 493.0,199.3 507.0,181.9 520.9,164.4 527.9,159.8 534.9,163.7 539.7,150.1 549.4,136.5 563.0,129.7 570.7,128.4 584.3,128.8 599.8,117.1 606.6,113.0 613.8,132.3 622.1,115.2 628.9,114.2 635.6,121.0 635.6,460.7" fill="#001fae"/>
<polygon points="113.5,460.5 152.7,451.1 180.0,447.7 214.2,439.8 230.0,436.6 248.4,433.0 282.6,425.5 303.1,420.3 330.0,410.6 357.8,398.1 391.9,384.9 400.0,378.2 442.6,343.9 485.2,309.8 519.3,281.1 536.3,268.8 543.3,256.0 554.9,244.4 566.5,232.8 578.1,216.5 589.8,200.2 596.7,186.5 600.0,178.0 607.5,170.0 614.5,169.0 621.5,161.5 629.5,154.0 635.7,144.0 635.7,460.7" fill="#00a08f"/>
<polyline points="113.5,451.0 120.7,428.0 127.8,407.5 134.8,393.4 142.1,442.0 156.5,460.0 163.7,403.7 171.0,395.6 178.0,399.6 185.1,416.9 193.0,399.1 199.8,404.3 206.7,401.5 214.0,460.3 221.0,437.4 234.7,416.9 242.2,432.3 249.4,393.7 256.9,403.2 263.8,432.3 278.5,369.1 285.3,430.6 292.8,415.9 299.7,431.6 306.8,366.8 314.0,391.5 328.5,338.7 335.5,329.1 342.8,374.4 349.6,330.8 356.8,369.2 364.0,378.2 371.4,360.5 378.5,330.0 385.8,316.9 392.5,346.0 400.3,304.4 407.6,312.5 414.6,357.3 421.3,350.6 428.5,334.0 435.1,297.1 442.7,329.1 456.8,257.8 464.5,313.6 470.8,313.6 478.1,278.7 485.7,260.3 492.3,258.4 499.8,275.0 507.0,242.0 514.4,252.0 521.0,254.5 528.5,279.2 535.3,248.6 542.6,232.0 550.0,261.8 557.1,251.2 564.2,245.7 570.5,228.0 585.6,156.5 593.7,180.9 600.0,197.2 607.7,169.3 614.7,160.7 621.6,198.8 628.6,191.4 635.6,118.1" fill="none" stroke="#f9a825" stroke-width="1.5" stroke-linejoin="miter"/>
<path d="M64,78.7V461.5M59.8,460.7H64M59.8,402.0H64M59.8,343.3H64M59.8,284.6H64M59.8,225.9H64M59.8,167.2H64M59.8,108.5H64M110,78.6V461.4M105.5,460.5H110M105.5,412.8H110M105.5,365.0H110M105.5,317.3H110M105.5,269.5H110M105.5,221.8H110M105.5,174.1H110M105.5,126.3H110M105.5,78.6H110M639.1,78.6V461.4M639.1,460.5H643.6M639.1,384.1H643.6M639.1,307.7H643.6M639.1,231.4H643.6M639.1,155.0H643.6M639.1,78.6H643.6" stroke="#ffffff" stroke-width="3.4" fill="none" stroke-linecap="square"/>
<path d="M64,78.7V461.5M59.8,460.7H64M59.8,402.0H64M59.8,343.3H64M59.8,284.6H64M59.8,225.9H64M59.8,167.2H64M59.8,108.5H64" stroke="#f68b2c" stroke-width="1.8" fill="none"/>
<path d="M110,78.6V461.4M105.5,460.5H110M105.5,412.8H110M105.5,365.0H110M105.5,317.3H110M105.5,269.5H110M105.5,221.8H110M105.5,174.1H110M105.5,126.3H110M105.5,78.6H110" stroke="#1b2fc4" stroke-width="1.8" fill="none"/>
<path d="M639.1,78.6V461.4M639.1,460.5H643.6M639.1,384.1H643.6M639.1,307.7H643.6M639.1,231.4H643.6M639.1,155.0H643.6M639.1,78.6H643.6" stroke="#00a08f" stroke-width="1.8" fill="none"/>
<g stroke="#9a9a9a" stroke-width="1.2">
<path d="M117.0,461.6V466"/>
<path d="M152.7,461.6V466"/>
<path d="M188.5,461.6V466"/>
<path d="M224.2,461.6V466"/>
<path d="M259.9,461.6V466"/>
<path d="M295.6,461.6V466"/>
<path d="M331.4,461.6V466"/>
<path d="M367.1,461.6V466"/>
<path d="M402.8,461.6V466"/>
<path d="M438.6,461.6V466"/>
<path d="M474.3,461.6V466"/>
<path d="M510.0,461.6V466"/>
<path d="M545.8,461.6V466"/>
<path d="M581.5,461.6V466"/>
<path d="M617.2,461.6V466"/>
</g>
<g font-family="'Liberation Sans', sans-serif" fill="#ffffff" stroke="#ffffff" stroke-width="2.4" stroke-linejoin="round">
<text x="55.5" y="465.0" text-anchor="end" font-size="12">0</text>
<text x="55.5" y="406.3" text-anchor="end" font-size="12">0.25</text>
<text x="55.5" y="347.6" text-anchor="end" font-size="12">0.50</text>
<text x="55.5" y="288.9" text-anchor="end" font-size="12">0.75</text>
<text x="55.5" y="230.2" text-anchor="end" font-size="12">1.00</text>
<text x="55.5" y="171.5" text-anchor="end" font-size="12">1.25</text>
<text x="55.5" y="112.8" text-anchor="end" font-size="12">1.50</text>
<text x="101.6" y="464.8" text-anchor="end" font-size="12">0</text>
<text x="101.6" y="417.1" text-anchor="end" font-size="12">5</text>
<text x="101.6" y="369.3" text-anchor="end" font-size="12">10</text>
<text x="101.6" y="321.6" text-anchor="end" font-size="12">15</text>
<text x="101.6" y="273.8" text-anchor="end" font-size="12">20</text>
<text x="101.6" y="226.1" text-anchor="end" font-size="12">25</text>
<text x="101.6" y="178.4" text-anchor="end" font-size="12">30</text>
<text x="101.6" y="130.6" text-anchor="end" font-size="12">35</text>
<text x="101.6" y="82.9" text-anchor="end" font-size="12">40</text>
<text x="645.8" y="464.8" font-size="12">0</text>
<text x="645.8" y="388.4" font-size="12">100</text>
<text x="645.8" y="312.0" font-size="12">200</text>
<text x="645.8" y="235.7" font-size="12">300</text>
<text x="645.8" y="159.3" font-size="12">400</text>
<text x="645.8" y="82.9" font-size="12">500</text>
<text x="104.20" y="481" font-size="12.5" textLength="27.4" lengthAdjust="spacingAndGlyphs">1950</text>
<text x="139.93" y="481" font-size="12.5" textLength="27.4" lengthAdjust="spacingAndGlyphs">1955</text>
<text x="175.01" y="481" font-size="12.5" textLength="28.7" lengthAdjust="spacingAndGlyphs">1960</text>
<text x="211.39" y="481" font-size="12.5" textLength="27.4" lengthAdjust="spacingAndGlyphs">1965</text>
<text x="247.12" y="481" font-size="12.5" textLength="27.4" lengthAdjust="spacingAndGlyphs">1970</text>
<text x="282.85" y="481" font-size="12.5" textLength="27.4" lengthAdjust="spacingAndGlyphs">1975</text>
<text x="317.93" y="481" font-size="12.5" textLength="28.7" lengthAdjust="spacingAndGlyphs">1980</text>
<text x="354.31" y="481" font-size="12.5" textLength="27.4" lengthAdjust="spacingAndGlyphs">1985</text>
<text x="390.04" y="481" font-size="12.5" textLength="27.4" lengthAdjust="spacingAndGlyphs">1990</text>
<text x="425.77" y="481" font-size="12.5" textLength="27.4" lengthAdjust="spacingAndGlyphs">1995</text>
<text x="461.60" y="481" font-size="12.5" textLength="29.8" lengthAdjust="spacingAndGlyphs">2000</text>
<text x="497.33" y="481" font-size="12.5" textLength="29.8" lengthAdjust="spacingAndGlyphs">2005</text>
<text x="532.91" y="481" font-size="12.5" textLength="28.3" lengthAdjust="spacingAndGlyphs">2010</text>
<text x="568.64" y="481" font-size="12.5" textLength="28.3" lengthAdjust="spacingAndGlyphs">2015</text>
<text x="604.52" y="481" font-size="12.5" textLength="29.8" lengthAdjust="spacingAndGlyphs">2020</text>
<text x="160" y="223.7" font-size="12" textLength="145" lengthAdjust="spacingAndGlyphs">Global mean temperature</text>
<text x="160" y="238.6" font-size="10" textLength="232" lengthAdjust="spacingAndGlyphs">(difference from pre-industrial 1850–1900 average)</text>
<text x="160" y="259.7" font-size="12" textLength="138.5" lengthAdjust="spacingAndGlyphs">Global carbon emissions</text>
<text x="160" y="285.6" font-size="12" textLength="142.5" lengthAdjust="spacingAndGlyphs">Global plastic production</text>
<text transform="translate(23.2,403.3) rotate(-90)" font-size="14" textLength="247.3" lengthAdjust="spacingAndGlyphs">Global mean temperature difference</text>
<text transform="translate(81.6,421.3) rotate(-90)" font-size="14" textLength="283.6" lengthAdjust="spacingAndGlyphs">Billion metric tons of carbon emitted/year</text>
<text transform="translate(681.0,427.7) rotate(-90)" font-size="14" textLength="296.1" lengthAdjust="spacingAndGlyphs">Million metric tons of plastic produced/year</text>
</g>
<g font-family="'Liberation Sans', sans-serif">
<text x="55.5" y="465.0" text-anchor="end" font-size="12" fill="#111111" stroke="#111111" stroke-width="0.3">0</text>
<text x="55.5" y="406.3" text-anchor="end" font-size="12" fill="#111111" stroke="#111111" stroke-width="0.3">0.25</text>
<text x="55.5" y="347.6" text-anchor="end" font-size="12" fill="#111111" stroke="#111111" stroke-width="0.3">0.50</text>
<text x="55.5" y="288.9" text-anchor="end" font-size="12" fill="#111111" stroke="#111111" stroke-width="0.3">0.75</text>
<text x="55.5" y="230.2" text-anchor="end" font-size="12" fill="#111111" stroke="#111111" stroke-width="0.3">1.00</text>
<text x="55.5" y="171.5" text-anchor="end" font-size="12" fill="#111111" stroke="#111111" stroke-width="0.3">1.25</text>
<text x="55.5" y="112.8" text-anchor="end" font-size="12" fill="#111111" stroke="#111111" stroke-width="0.3">1.50</text>
<text x="101.6" y="464.8" text-anchor="end" font-size="12" fill="#111111" stroke="#111111" stroke-width="0.3">0</text>
<text x="101.6" y="417.1" text-anchor="end" font-size="12" fill="#111111" stroke="#111111" stroke-width="0.3">5</text>
<text x="101.6" y="369.3" text-anchor="end" font-size="12" fill="#111111" stroke="#111111" stroke-width="0.3">10</text>
<text x="101.6" y="321.6" text-anchor="end" font-size="12" fill="#111111" stroke="#111111" stroke-width="0.3">15</text>
<text x="101.6" y="273.8" text-anchor="end" font-size="12" fill="#111111" stroke="#111111" stroke-width="0.3">20</text>
<text x="101.6" y="226.1" text-anchor="end" font-size="12" fill="#111111" stroke="#111111" stroke-width="0.3">25</text>
<text x="101.6" y="178.4" text-anchor="end" font-size="12" fill="#111111" stroke="#111111" stroke-width="0.3">30</text>
<text x="101.6" y="130.6" text-anchor="end" font-size="12" fill="#111111" stroke="#111111" stroke-width="0.3">35</text>
<text x="101.6" y="82.9" text-anchor="end" font-size="12" fill="#111111" stroke="#111111" stroke-width="0.3">40</text>
<text x="645.8" y="464.8" font-size="12" fill="#111111" stroke="#111111" stroke-width="0.3">0</text>
<text x="645.8" y="388.4" font-size="12" fill="#111111" stroke="#111111" stroke-width="0.3">100</text>
<text x="645.8" y="312.0" font-size="12" fill="#111111" stroke="#111111" stroke-width="0.3">200</text>
<text x="645.8" y="235.7" font-size="12" fill="#111111" stroke="#111111" stroke-width="0.3">300</text>
<text x="645.8" y="159.3" font-size="12" fill="#111111" stroke="#111111" stroke-width="0.3">400</text>
<text x="645.8" y="82.9" font-size="12" fill="#111111" stroke="#111111" stroke-width="0.3">500</text>
<text x="104.20" y="481" font-size="12.5" textLength="27.4" lengthAdjust="spacingAndGlyphs" fill="#111111" stroke="#111111" stroke-width="0.3">1950</text>
<text x="139.93" y="481" font-size="12.5" textLength="27.4" lengthAdjust="spacingAndGlyphs" fill="#111111" stroke="#111111" stroke-width="0.3">1955</text>
<text x="175.01" y="481" font-size="12.5" textLength="28.7" lengthAdjust="spacingAndGlyphs" fill="#111111" stroke="#111111" stroke-width="0.3">1960</text>
<text x="211.39" y="481" font-size="12.5" textLength="27.4" lengthAdjust="spacingAndGlyphs" fill="#111111" stroke="#111111" stroke-width="0.3">1965</text>
<text x="247.12" y="481" font-size="12.5" textLength="27.4" lengthAdjust="spacingAndGlyphs" fill="#111111" stroke="#111111" stroke-width="0.3">1970</text>
<text x="282.85" y="481" font-size="12.5" textLength="27.4" lengthAdjust="spacingAndGlyphs" fill="#111111" stroke="#111111" stroke-width="0.3">1975</text>
<text x="317.93" y="481" font-size="12.5" textLength="28.7" lengthAdjust="spacingAndGlyphs" fill="#111111" stroke="#111111" stroke-width="0.3">1980</text>
<text x="354.31" y="481" font-size="12.5" textLength="27.4" lengthAdjust="spacingAndGlyphs" fill="#111111" stroke="#111111" stroke-width="0.3">1985</text>
<text x="390.04" y="481" font-size="12.5" textLength="27.4" lengthAdjust="spacingAndGlyphs" fill="#111111" stroke="#111111" stroke-width="0.3">1990</text>
<text x="425.77" y="481" font-size="12.5" textLength="27.4" lengthAdjust="spacingAndGlyphs" fill="#111111" stroke="#111111" stroke-width="0.3">1995</text>
<text x="461.60" y="481" font-size="12.5" textLength="29.8" lengthAdjust="spacingAndGlyphs" fill="#111111" stroke="#111111" stroke-width="0.3">2000</text>
<text x="497.33" y="481" font-size="12.5" textLength="29.8" lengthAdjust="spacingAndGlyphs" fill="#111111" stroke="#111111" stroke-width="0.3">2005</text>
<text x="532.91" y="481" font-size="12.5" textLength="28.3" lengthAdjust="spacingAndGlyphs" fill="#111111" stroke="#111111" stroke-width="0.3">2010</text>
<text x="568.64" y="481" font-size="12.5" textLength="28.3" lengthAdjust="spacingAndGlyphs" fill="#111111" stroke="#111111" stroke-width="0.3">2015</text>
<text x="604.52" y="481" font-size="12.5" textLength="29.8" lengthAdjust="spacingAndGlyphs" fill="#111111" stroke="#111111" stroke-width="0.3">2020</text>
<text x="160" y="223.7" font-size="12" textLength="145" lengthAdjust="spacingAndGlyphs" fill="#f47c22" stroke="#f47c22" stroke-width="0.25">Global mean temperature</text>
<text x="160" y="238.6" font-size="10" textLength="232" lengthAdjust="spacingAndGlyphs" fill="#f47c22" stroke="#f47c22" stroke-width="0.2">(difference from pre-industrial 1850–1900 average)</text>
<text x="160" y="259.7" font-size="12" textLength="138.5" lengthAdjust="spacingAndGlyphs" fill="#001fae" stroke="#001fae" stroke-width="0.25">Global carbon emissions</text>
<text x="160" y="285.6" font-size="12" textLength="142.5" lengthAdjust="spacingAndGlyphs" fill="#00a08f" stroke="#00a08f" stroke-width="0.25">Global plastic production</text>
<text transform="translate(23.2,403.3) rotate(-90)" font-size="14" textLength="247.3" lengthAdjust="spacingAndGlyphs" fill="#f47c22" stroke="#f47c22" stroke-width="0.25">Global mean temperature difference</text>
<text transform="translate(81.6,421.3) rotate(-90)" font-size="14" textLength="283.6" lengthAdjust="spacingAndGlyphs" fill="#001fae" stroke="#001fae" stroke-width="0.25">Billion metric tons of carbon emitted/year</text>
<text transform="translate(681.0,427.7) rotate(-90)" font-size="14" textLength="296.1" lengthAdjust="spacingAndGlyphs" fill="#00a08f" stroke="#00a08f" stroke-width="0.25">Million metric tons of plastic produced/year</text>
</g>
<rect x="100.95" y="431.50" width="25.9" height="17" fill="#f7933a"/>
<text x="102.55" y="444.30" font-family="'Liberation Sans', sans-serif" font-size="14" fill="#ffffff" stroke="#ffffff" stroke-width="0.25" textLength="22.7" lengthAdjust="spacingAndGlyphs">0.12</text>
<rect x="243.90" y="373.05" width="25.9" height="17" fill="#f7933a"/>
<text x="244.40" y="385.85" font-family="'Liberation Sans', sans-serif" font-size="14" fill="#ffffff" stroke="#ffffff" stroke-width="0.25" textLength="24.9" lengthAdjust="spacingAndGlyphs">0.30</text>
<rect x="386.95" y="283.90" width="25.9" height="17" fill="#f7933a"/>
<text x="387.65" y="296.70" font-family="'Liberation Sans', sans-serif" font-size="14" fill="#ffffff" stroke="#ffffff" stroke-width="0.25" textLength="24.5" lengthAdjust="spacingAndGlyphs">0.70</text>
<rect x="530.00" y="211.05" width="25.9" height="17" fill="#f7933a"/>
<text x="530.35" y="223.85" font-family="'Liberation Sans', sans-serif" font-size="14" fill="#ffffff" stroke="#ffffff" stroke-width="0.25" textLength="25.2" lengthAdjust="spacingAndGlyphs">0.98</text>
<rect x="623.00" y="98.20" width="25.9" height="17" fill="#f7933a"/>
<text x="624.70" y="111.00" font-family="'Liberation Sans', sans-serif" font-size="14" fill="#ffffff" stroke="#ffffff" stroke-width="0.25" textLength="22.5" lengthAdjust="spacingAndGlyphs">1.43</text>
<path d="M116.4,226.7H152.3M114.7,246.8h39.5v17.1h-39.5zM114.7,272.5h39.5v17.1h-39.5z" stroke="#ffffff" stroke-width="2.6" fill="#ffffff"/>
<path d="M116.4,226.7H152.3" stroke="#f68b2c" stroke-width="2"/>
<rect x="114.7" y="246.8" width="39.5" height="17.1" fill="#001fae"/>
<rect x="114.7" y="272.5" width="39.5" height="17.1" fill="#00a08f"/>
</svg></body></html>
